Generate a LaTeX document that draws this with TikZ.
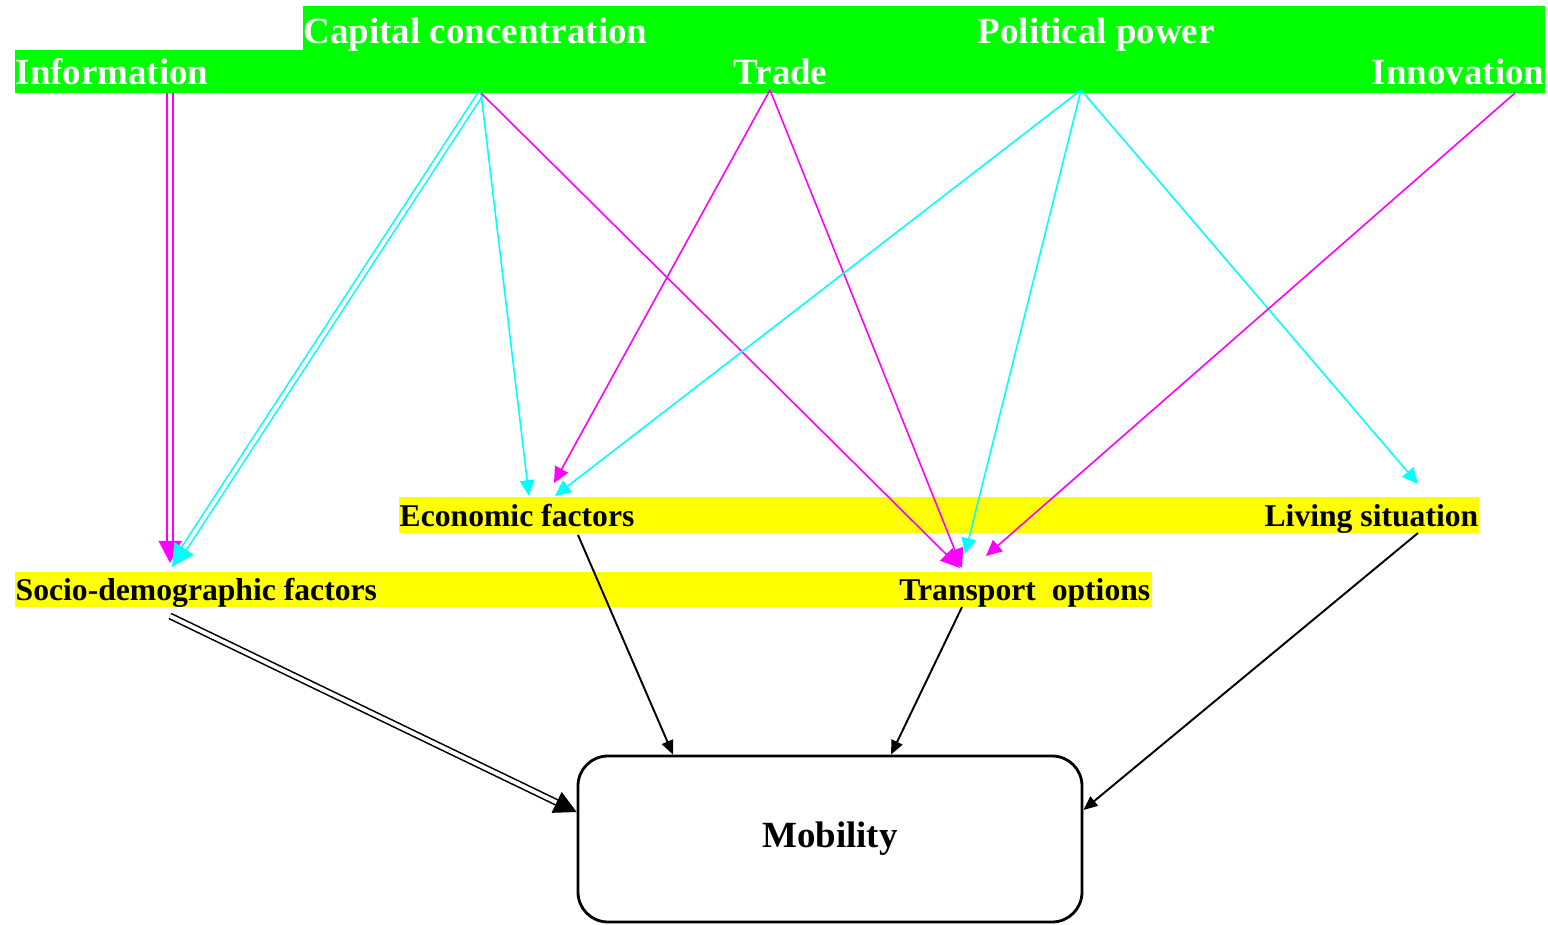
\documentclass[tikz,border=0pt]{standalone}
\usepackage{fontspec}
\setmainfont{Liberation Serif}
\usetikzlibrary{arrows.meta}
\definecolor{pmag}{RGB}{255,0,255}
\definecolor{pcyan}{RGB}{0,255,255}
\definecolor{pgreen}{RGB}{0,255,0}
\definecolor{pyellow}{RGB}{255,255,0}

\begin{document}
\begin{tikzpicture}[x=0.01cm, y=-0.01cm,
   topic/.style={inner sep=0pt, text=white, font=\fontsize{10.5}{12}\selectfont\bfseries},
   factor/.style={inner sep=0pt, font=\fontsize{9}{11}\selectfont\bfseries},
   mag/.style={pmag, line width=0.45pt, -{Triangle[length=4.5pt,width=4.2pt]}},
   cyn/.style={pcyan, line width=0.45pt, -{Triangle[length=4.5pt,width=4.2pt]}},
   blk/.style={black, line width=0.55pt, -{Triangle[length=4pt,width=3.4pt]}},
   dbl/.style={line width=0.45pt, double=white, double distance=1.1pt, -{Triangle[length=6.3pt,width=6.5pt]}}]
   \useasboundingbox (0,0) rectangle (1548,925);
   % the green bands
   \fill[pgreen] (303,6) rectangle (1545,50);
   \fill[pgreen] (15,50) rectangle (1545,93);
   \node[topic, anchor=base west] (cap) at (303,44) {Capital concentration};
   \node[topic, anchor=base west] (pol) at (977,44) {Political power};
   \node[topic, anchor=base west] (info) at (15,85) {Information};
   \node[topic, anchor=base west] (trade) at (733,85) {Trade};
   \node[topic, anchor=base east] (innov) at (1545,85) {Innovation};
   % the yellow bands
   \fill[pyellow] (399,497) rectangle (1479,533);
   \fill[pyellow] (15,572) rectangle (1152,607);
   \node[factor, anchor=base west] (econ) at (399,527) {Economic factors};
   \node[factor, anchor=base east] (living) at (1479,527) {Living situation};
   \node[factor, anchor=base west] (socio) at (15,601) {Socio-demographic factors};
   \node[factor, anchor=base east] (transp) at (1151,601) {Transport\ \ options};
   \node[draw, thick, rounded corners=8.5pt, minimum width=504*0.01cm, minimum height=166*0.01cm,
         font=\fontsize{10.5}{12}\selectfont\bfseries] (mob) at (830,839) {Mobility};
   % ports
   \coordinate (infoout) at (170,93);
   \coordinate (capout) at (481,93);
   \coordinate (tradeout) at (770,90);
   \coordinate (polout) at (1081,90);
   \coordinate (innovout) at (1515,93);
   \coordinate (sociodbl) at (170,563);
   \coordinate (sociocap) at (172,567);
   \coordinate (econcap) at (529,496);
   \coordinate (econtrade) at (554,483);
   \coordinate (econpol) at (555,496);
   \coordinate (transcap) at (960,568);
   \coordinate (transtrade) at (962,568);
   \coordinate (transpol) at (965,554);
   \coordinate (transinnov) at (986,556);
   \coordinate (livpol) at (1418,484);
   \coordinate (econout) at (578,535);
   \coordinate (transout) at (962,607);
   \coordinate (livout) at (1418,533);
   \coordinate (sociout) at (170,616);
   % influences
   \draw[dbl, draw=pmag] (infoout) -- (sociodbl);
   \draw[dbl, draw=pcyan] (capout) -- (sociocap);
   \draw[cyn] (capout) -- (econcap);
   \draw[mag, -{Triangle[length=5.5pt,width=5pt]}] (capout) -- (transcap);
   \draw[mag] (tradeout) -- (econtrade);
   \draw[mag, -{Triangle[length=5.5pt,width=5pt]}] (tradeout) -- (transtrade);
   \draw[cyn] (polout) -- (econpol);
   \draw[cyn] (polout) -- (transpol);
   \draw[cyn] (polout) -- (livpol);
   \draw[mag] (innovout) -- (transinnov);
   % into mobility
   \draw[blk] (econout) -- (mob.north west -| 673,0);
   \draw[blk] (transout) -- (mob.north west -| 891,0);
   \draw[blk] (livout) -- (mob.east |- 0,810);
   \draw[dbl, draw=black] (sociout) -- (mob.west |- 0,812);
\end{tikzpicture}
\end{document}
